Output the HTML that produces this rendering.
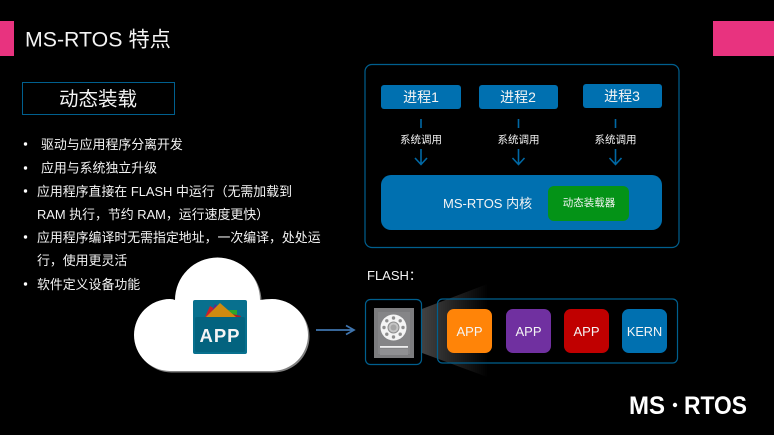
<!DOCTYPE html>
<html lang="zh">
<head>
<meta charset="utf-8">
<title>MS-RTOS 特点</title>
<style>
html,body{margin:0;padding:0;background:#000;width:774px;height:435px;overflow:hidden}
svg{display:block}
text{font-family:"Liberation Sans","Noto Sans CJK SC",sans-serif;fill:#f4f4f4}
</style>
</head>
<body>
<svg width="774" height="435" viewBox="0 0 774 435" xmlns="http://www.w3.org/2000/svg">
<defs>
<linearGradient id="cone" gradientUnits="userSpaceOnUse" x1="414" x2="488" y1="0" y2="0">
<stop offset="0" stop-color="#4a4a4a"/>
<stop offset="1" stop-color="#000"/>
</linearGradient>
</defs>
<rect width="774" height="435" fill="#000"/>

<!-- header -->
<rect x="0" y="21" width="14" height="35" fill="#e8337f"/>
<rect x="713" y="21" width="61" height="35" fill="#e8337f"/>
<text x="25" y="46.500" font-size="21.300">MS-RTOS 特点</text>

<rect x="22.500" y="82.500" width="152" height="32" fill="none" stroke="#005f8e" stroke-width="1"/>
<text x="98" y="105.500" font-size="19.500" text-anchor="middle">动态装载</text>

<!-- bullets -->
<g font-size="12.900">
<circle cx="25.500" cy="144" r="1.700" fill="#fff"/>
<text x="41" y="149">驱动与应用程序分离开发</text>
<circle cx="25.500" cy="168" r="1.700" fill="#fff"/>
<text x="41" y="172.500">应用与系统独立升级</text>
<circle cx="25.500" cy="191" r="1.700" fill="#fff"/>
<text x="37" y="196">应用程序直接在 FLASH 中运行（无需加载到</text>
<text x="37" y="219">RAM 执行，节约 RAM，运行速度更快）</text>
<circle cx="25.500" cy="237" r="1.700" fill="#fff"/>
<text x="37" y="242">应用程序编译时无需指定地址，一次编译，处处运</text>
<text x="37" y="265">行，使用更灵活</text>
<circle cx="25.500" cy="284" r="1.700" fill="#fff"/>
<text x="37" y="289">软件定义设备功能</text>
</g>

<!-- system diagram -->
<rect x="365" y="64.500" width="314" height="183" rx="7" fill="none" stroke="#005f8e" stroke-width="1.200"/>
<rect x="381" y="85" width="80" height="24" rx="3" fill="#0070b0"/>
<rect x="479" y="85" width="79" height="24" rx="3" fill="#0070b0"/>
<rect x="583" y="84" width="79" height="24" rx="3" fill="#0070b0"/>
<g font-size="14" text-anchor="middle">
<text x="421" y="102">进程1</text>
<text x="518" y="102">进程2</text>
<text x="622" y="101">进程3</text>
</g>
<g stroke="#0068a4" stroke-width="1.600" fill="none">
<path d="M421 119V128M421 149V164M415 158L421 164.500L427 158"/>
<path d="M518.500 119V128M518.500 149V164M512.500 158L518.500 164.500L524.500 158"/>
<path d="M615.500 119V128M615.500 149V164M609.500 158L615.500 164.500L621.500 158"/>
</g>
<g font-size="10.500" text-anchor="middle">
<text x="421" y="143">系统调用</text>
<text x="518.500" y="143">系统调用</text>
<text x="615.500" y="143">系统调用</text>
</g>
<rect x="381" y="175" width="281" height="55" rx="10" fill="#0070b0"/>
<rect x="548" y="186" width="81" height="35" rx="6" fill="#049317"/>
<text x="443" y="208" font-size="13">MS-RTOS 内核</text>
<text x="589" y="206" font-size="10.500" text-anchor="middle">动态装载器</text>

<!-- flash -->
<text x="367" y="280" font-size="13">FLASH：</text>
<polygon points="414,312 490,283 490,378 414,350" fill="url(#cone)"/>
<rect x="365.500" y="299.500" width="56" height="65" rx="5" fill="#000" stroke="#005f8e" stroke-width="1.200"/>
<rect x="437.500" y="299" width="240" height="64" rx="5" fill="none" stroke="#005f8e" stroke-width="1.200"/>

<!-- disk -->
<rect x="374" y="308" width="40" height="50" fill="#7c7c7e"/>
<rect x="378" y="312" width="32" height="42" fill="#858587"/>
<circle cx="393.500" cy="327.500" r="13" fill="#f4f4f4"/>
<circle cx="393.500" cy="327.500" r="5.500" fill="#c4c4c4" stroke="#8f8f8f" stroke-width="1"/>
<circle cx="393.500" cy="327.500" r="3" fill="#a5a5a5"/>
<g fill="#8f8f8f">
<circle cx="393.500" cy="318" r="1.700"/><circle cx="393.500" cy="337" r="1.700"/>
<circle cx="384" cy="327.500" r="1.700"/><circle cx="403" cy="327.500" r="1.700"/>
<circle cx="386.800" cy="320.800" r="1.700"/><circle cx="400.200" cy="320.800" r="1.700"/>
<circle cx="386.800" cy="334.200" r="1.700"/><circle cx="400.200" cy="334.200" r="1.700"/>
</g>
<rect x="380" y="346" width="28" height="1.800" fill="#eee"/>
<rect x="380" y="349" width="28" height="6" fill="#909092"/>

<!-- app tiles -->
<rect x="447" y="309" width="45" height="44" rx="7" fill="#ff8408"/>
<rect x="506" y="309" width="45" height="44" rx="7" fill="#7030a0"/>
<rect x="564" y="309" width="45" height="44" rx="7" fill="#c00000"/>
<rect x="622" y="309" width="45" height="44" rx="7" fill="#0070b0"/>
<g font-size="13" text-anchor="middle">
<text x="469.500" y="336">APP</text>
<text x="528.500" y="336">APP</text>
<text x="586.500" y="336">APP</text>
<text x="644.500" y="336" font-size="12.700">KERN</text>
</g>

<!-- arrow -->
<path d="M316 330H353M346 325.500L354 330L346 334.500" fill="none" stroke="#3f74ad" stroke-width="1.700"/>

<!-- cloud -->
<path d="M170 371A36 36 0 0 1 170 299Q173 299 175 300A42.500 42.500 0 0 1 260 300Q266 299 272 299A36 36 0 0 1 272 371Z" fill="#808080" transform="translate(1.500,1.500)"/>
<path d="M170 371A36 36 0 0 1 170 299Q173 299 175 300A42.500 42.500 0 0 1 260 300Q266 299 272 299A36 36 0 0 1 272 371Z" fill="#fff"/>

<!-- app icon -->
<rect x="193" y="300" width="54" height="54" rx="2" fill="#08708e"/>
<polygon points="205,317 210,306 222,313" fill="#c8202c"/>
<polygon points="210,317 215,304 224,312" fill="#5d2a90"/>
<polygon points="228,310 237,310 237,318" fill="#2da52a"/>
<polygon points="232,314 241,316 240,318 232,318" fill="#b0182a"/>
<polygon points="206,317 220,303 236,317" fill="#cf8a10"/>
<rect x="195" y="317" width="50" height="35" rx="2" fill="#03637f"/>
<text x="220" y="342" font-size="18.500" font-weight="bold" text-anchor="middle" letter-spacing="1">APP</text>

<!-- logo -->
<g font-size="25" font-weight="bold">
<text x="629" y="414" textLength="36" lengthAdjust="spacingAndGlyphs" style="fill:#fff">MS</text>
<text x="684" y="414" textLength="63" lengthAdjust="spacingAndGlyphs" style="fill:#fff">RTOS</text>
</g>
<circle cx="675" cy="405" r="2.200" fill="#fff"/>
</svg>
</body>
</html>
